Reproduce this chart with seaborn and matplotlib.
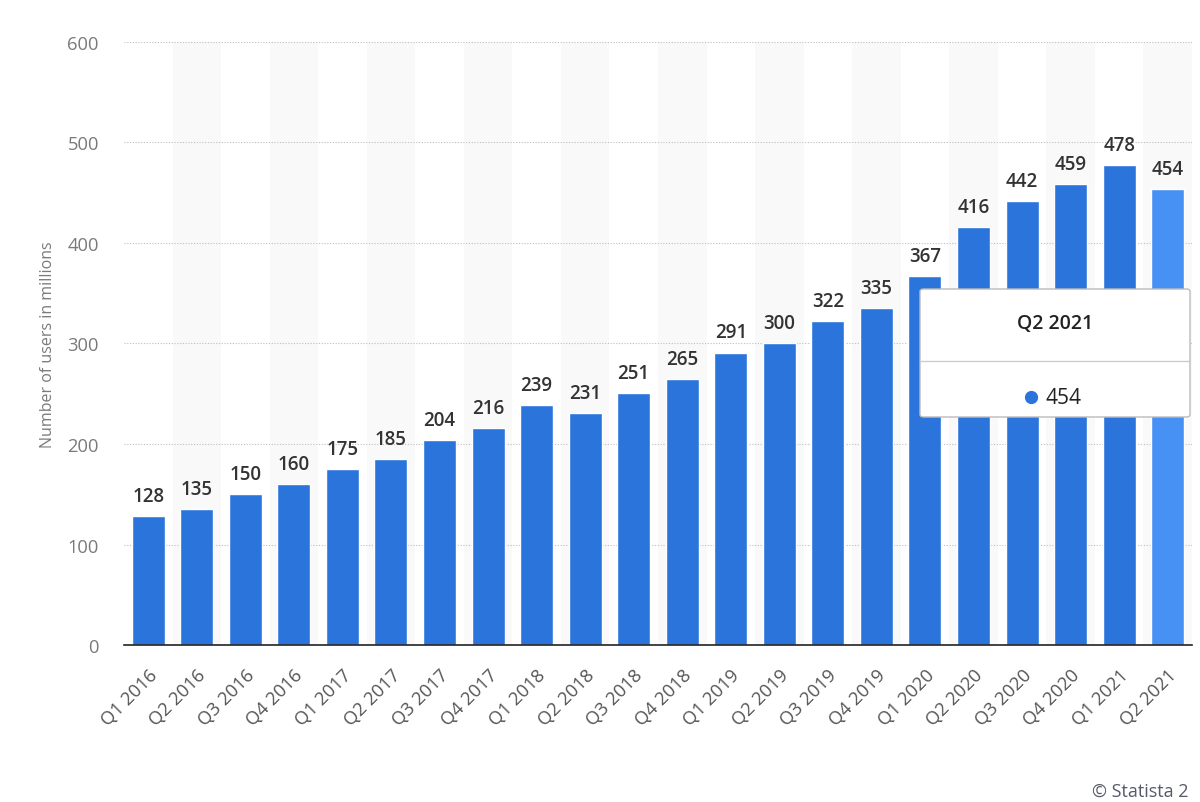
import matplotlib
matplotlib.use("Agg")
import matplotlib.pyplot as plt
import seaborn as sns
import pandas as pd
from matplotlib.patches import FancyBboxPatch
from matplotlib.lines import Line2D

quarters = ["Q1 2016", "Q2 2016", "Q3 2016", "Q4 2016", "Q1 2017", "Q2 2017",
            "Q3 2017", "Q4 2017", "Q1 2018", "Q2 2018", "Q3 2018", "Q4 2018",
            "Q1 2019", "Q2 2019", "Q3 2019", "Q4 2019", "Q1 2020", "Q2 2020",
            "Q3 2020", "Q4 2020", "Q1 2021", "Q2 2021"]
users = [128, 135, 150, 160, 175, 185, 204, 216, 239, 231, 251, 265,
         291, 300, 322, 335, 367, 416, 442, 459, 478, 454]
y_ticks = [0, 100, 200, 300, 400, 500, 600]
y_label = "Number of users in millions"
tooltip_title = "Q2 2021"
tooltip_value = 454
credit = "© Statista 2"

sns.set_theme(style="white")
plt.rcParams["font.family"] = ["Open Sans", "DejaVu Sans"]

df = pd.DataFrame({"quarter": quarters, "users": users})
base = "#2a74db"
hover = "#4791f4"
palette = [base] * (len(quarters) - 1) + [hover]

fig = plt.figure(figsize=(12, 8.03), dpi=100)
ax = fig.add_axes([0.1033, 0.1955, 0.89, 0.751])

# alternating background bands
for i in range(len(quarters)):
    if i % 2 == 1:
        ax.axvspan(i - 0.5, i + 0.5, color="#f9f9f9", zorder=0, lw=0)

sns.barplot(data=df, x="quarter", y="users", hue="quarter", palette=palette,
            legend=False, width=0.68, ax=ax, zorder=3, saturation=1)

ax.set_xlim(-0.5, len(quarters) - 0.5)
ax.set_ylim(0, 600)
ax.set_yticks(y_ticks)
ax.yaxis.grid(True, linestyle=(0, (1, 1.5)), color="#bdbdbd", lw=0.8, zorder=1)
ax.set_axisbelow(True)
for s in ["top", "right", "left"]:
    ax.spines[s].set_visible(False)
ax.spines["bottom"].set_color("#222222")
ax.spines["bottom"].set_linewidth(1.2)
ax.spines["bottom"].set_zorder(5)

ax.tick_params(axis="y", length=0, pad=18, labelsize=13.2, labelcolor="#7a7a7a")
ax.tick_params(axis="x", length=0, pad=15, labelsize=13.2, labelcolor="#555555")
plt.setp(ax.get_xticklabels(), rotation=45, ha="right", rotation_mode="anchor")
ax.set_xlabel("")
ax.set_ylabel(y_label, fontsize=11.5, color="#7a7a7a", labelpad=8)

for i, v in enumerate(users):
    ax.text(i, v + 10, str(v), ha="center", va="bottom", fontsize=13.5,
            fontweight="semibold", color="#333333", zorder=6)

# tooltip
tx0, ty0, tw, th = 920 / 1200, 1 - 418 / 803, 270 / 1200, 128 / 803
box = FancyBboxPatch((tx0, ty0), tw, th, boxstyle="round,pad=0,rounding_size=0.003",
                     transform=fig.transFigure, facecolor="white",
                     edgecolor="#bbbbbb", lw=1, zorder=10)
fig.patches.append(box)
fig.text(tx0 + tw / 2, 1 - 324 / 803, tooltip_title, ha="center", va="center",
         fontsize=14, fontweight="semibold", color="#222222", zorder=11)
fig.lines.append(Line2D([tx0, tx0 + tw], [1 - 362 / 803, 1 - 362 / 803],
                        transform=fig.transFigure, color="#cccccc", lw=1, zorder=11))
fig.lines.append(Line2D([1031 / 1200], [1 - 398 / 803], transform=fig.transFigure,
                        marker="o", markersize=8.5, color=base, lw=0, zorder=11))
fig.text(1046 / 1200, 1 - 399 / 803, str(tooltip_value), ha="left", va="center",
         fontsize=15, fontweight="normal", color="#222222", zorder=11)

fig.text(1092 / 1200, 1 - 792 / 803, credit, ha="left", va="center",
         fontsize=13, color="#555a66")

fig.savefig("out.png", dpi=100)
